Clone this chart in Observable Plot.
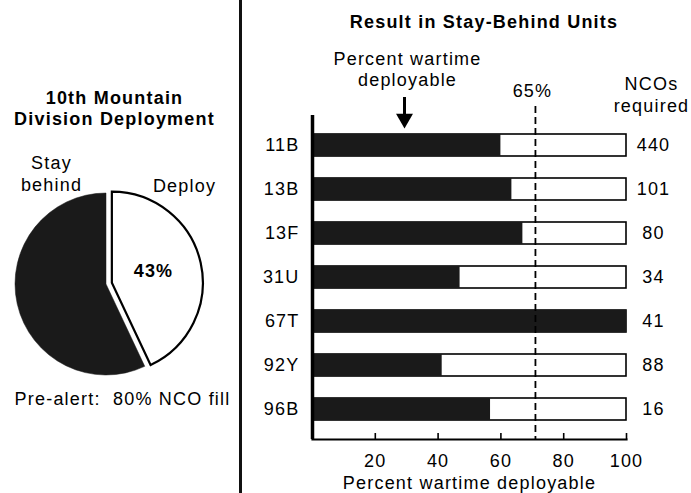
<!DOCTYPE html>
<html><head><meta charset="utf-8">
<script src="https://cdn.jsdelivr.net/npm/d3@7"></script>
<script src="https://cdn.jsdelivr.net/npm/@observablehq/plot@0.6"></script>
<style>
html,body{margin:0;padding:0;background:#fff;}
#chart{position:relative;width:691px;height:493px;overflow:hidden;background:#fff;}
#chart svg{position:absolute;top:0;}
#chart text{letter-spacing:1.2px;white-space:pre;}
#sep{position:absolute;left:239px;top:0;width:2.5px;height:493px;background:#111;}
</style></head><body><div id="chart"><div id="sep"></div></div>
<script>
// ---- data ----
const units = ["11B","13B","13F","31U","67T","92Y","96B"];
const pctDeployable = [60, 63.5, 67, 47, 100, 41.3, 56.7];
const ncosRequired = [440, 101, 80, 34, 41, 88, 16];
const xTicks = [20, 40, 60, 80, 100];
const thresholdValue = 71;
const thresholdLabel = "65%";
const arrowValue = 29.3;
const pieLabels = ["Deploy", "Stay behind"];
const pieValues = [43, 57];

const rightTitle = "Result in Stay-Behind Units";
const xLabel = "Percent wartime deployable";
const arrowLabel = "Percent wartime\ndeployable";
const ncoHeader = "NCOs\nrequired";
const leftTitle = "10th Mountain\nDivision Deployment";
const stayText = "Stay\nbehind";
const footnote = "Pre-alert:  80% NCO fill";

const FONT = "'Liberation Sans', Arial, Helvetica, sans-serif";
const DARK = "#1a1a1a";

const rows = units.map((u, i) => ({unit: u, pct: pctDeployable[i], nco: ncosRequired[i]}));
const pieData = pieLabels.map((l, i) => ({label: l, value: pieValues[i]}));

// ---- left: pie ----
function pieMark() {
  const g = d3.create("svg:g");
  const arcs = d3.pie().sort(null).value(d => d.value)(pieData);
  const arc = d3.arc().innerRadius(0).outerRadius(91);
  const cx = 106, cy = 284;
  [1, 0].forEach(i => {
    const a = arcs[i];
    const mid = (a.startAngle + a.endAngle) / 2;
    const off = i === 0 ? 6 : 0;
    const tx = cx + off * Math.sin(mid), ty = cy - off * Math.cos(mid);
    g.append("path")
      .attr("transform", `translate(${tx},${ty})`)
      .attr("d", arc(a))
      .attr("fill", i === 0 ? "white" : DARK)
      .attr("stroke", i === 0 ? "black" : DARK)
      .attr("stroke-width", i === 0 ? 2.2 : 0.5)
      .attr("stroke-linejoin", "miter");
  });
  return g.node();
}

const left = Plot.plot({
  width: 240, height: 493,
  marginTop: 0, marginRight: 0, marginBottom: 0, marginLeft: 0,
  style: {fontFamily: FONT, fontSize: "18px", background: "transparent", color: "black"},
  marks: [
    pieMark,
    Plot.text([leftTitle], {text: d => d, frameAnchor: "top-left", textAnchor: "middle", dx: 114, dy: 107, lineAnchor: "middle", lineHeight: 1.2, fontWeight: "bold", fontSize: 18}),
    Plot.text([stayText], {text: d => d, frameAnchor: "top-left", textAnchor: "middle", dx: 51, dy: 172.5, lineAnchor: "middle", lineHeight: 1.25, fontSize: 18}),
    Plot.text([pieLabels[0]], {text: d => d, frameAnchor: "top-left", textAnchor: "middle", dx: 184, dy: 186.2, lineAnchor: "middle", fontSize: 18}),
    Plot.text([pieValues[0]], {text: d => `${d}%`, frameAnchor: "top-left", textAnchor: "middle", dx: 153, dy: 271.2, lineAnchor: "middle", fontWeight: "bold", fontSize: 18}),
    Plot.text([footnote], {text: d => d, frameAnchor: "top-left", textAnchor: "middle", dx: 122, dy: 399.2, lineAnchor: "middle", fontSize: 18})
  ]
});
left.style.left = "0px";
document.getElementById("chart").appendChild(left);

// ---- right: bars ----
const right = Plot.plot({
  width: 450, height: 493,
  marginLeft: 71, marginRight: 65, marginTop: 115, marginBottom: 54,
  x: {domain: [0, 100], axis: null},
  y: {domain: units, paddingInner: 0.511, paddingOuter: 0.356, axis: null},
  style: {fontFamily: FONT, fontSize: "18px", background: "transparent", color: "black"},
  marks: [
    Plot.barX(rows, {y: "unit", x1: 0, x2: 100, fill: "white", stroke: "black", strokeWidth: 1.6}),
    Plot.barX(rows, {y: "unit", x1: 0, x2: "pct", fill: DARK}),
    Plot.ruleX([thresholdValue], {stroke: "black", strokeWidth: 1.8, strokeDasharray: "7,4", insetTop: -9}),
    Plot.ruleX(xTicks, {x: d => d, stroke: "black", strokeWidth: 1.6, insetTop: 318}),
    Plot.frame({anchor: "bottom", stroke: "black", strokeWidth: 2.2}),
    Plot.ruleX([0], {stroke: "black", strokeWidth: 3.5}),
    Plot.text(rows, {y: "unit", x: 0, text: "unit", textAnchor: "end", dx: -13, lineAnchor: "middle", fontSize: 18}),
    Plot.text(rows, {y: "unit", x: 100, text: d => String(d.nco), textAnchor: "middle", dx: 27, lineAnchor: "middle", fontSize: 18}),
    Plot.text(xTicks, {x: d => d, text: d => String(d), frameAnchor: "bottom", textAnchor: "middle", dy: 22, lineAnchor: "middle", fontSize: 18}),
    Plot.text([xLabel], {text: d => d, frameAnchor: "bottom", textAnchor: "middle", dy: 43.5, lineAnchor: "middle", fontSize: 18}),
    Plot.text([rightTitle], {text: d => d, frameAnchor: "top", textAnchor: "middle", dx: 14.5, dy: -92.8, lineAnchor: "middle", fontWeight: "bold", fontSize: 18}),
    Plot.text([thresholdLabel], {x: thresholdValue, text: d => d, frameAnchor: "top", textAnchor: "middle", dx: -3, dy: -24, lineAnchor: "middle", fontSize: 18}),
    Plot.text([arrowLabel], {x: arrowValue, text: d => d, frameAnchor: "top", textAnchor: "middle", dx: 3, dy: -47.2, lineAnchor: "middle", lineHeight: 1.17, fontSize: 18}),
    Plot.ruleX([arrowValue], {x: d => d, stroke: "black", strokeWidth: 3, insetTop: -18, insetBottom: 319}),
    Plot.dot([arrowValue], {x: d => d, frameAnchor: "top", dy: 3.2, symbol: "triangle", rotate: 180, r: 6.3, fill: "black", stroke: "none"}),
    Plot.text([ncoHeader], {text: d => d, frameAnchor: "top-right", textAnchor: "middle", dx: 25, dy: -21.8, lineAnchor: "middle", lineHeight: 1.22, fontSize: 18})
  ]
});
right.style.left = "241px";
document.getElementById("chart").appendChild(right);
</script>
</body></html>
